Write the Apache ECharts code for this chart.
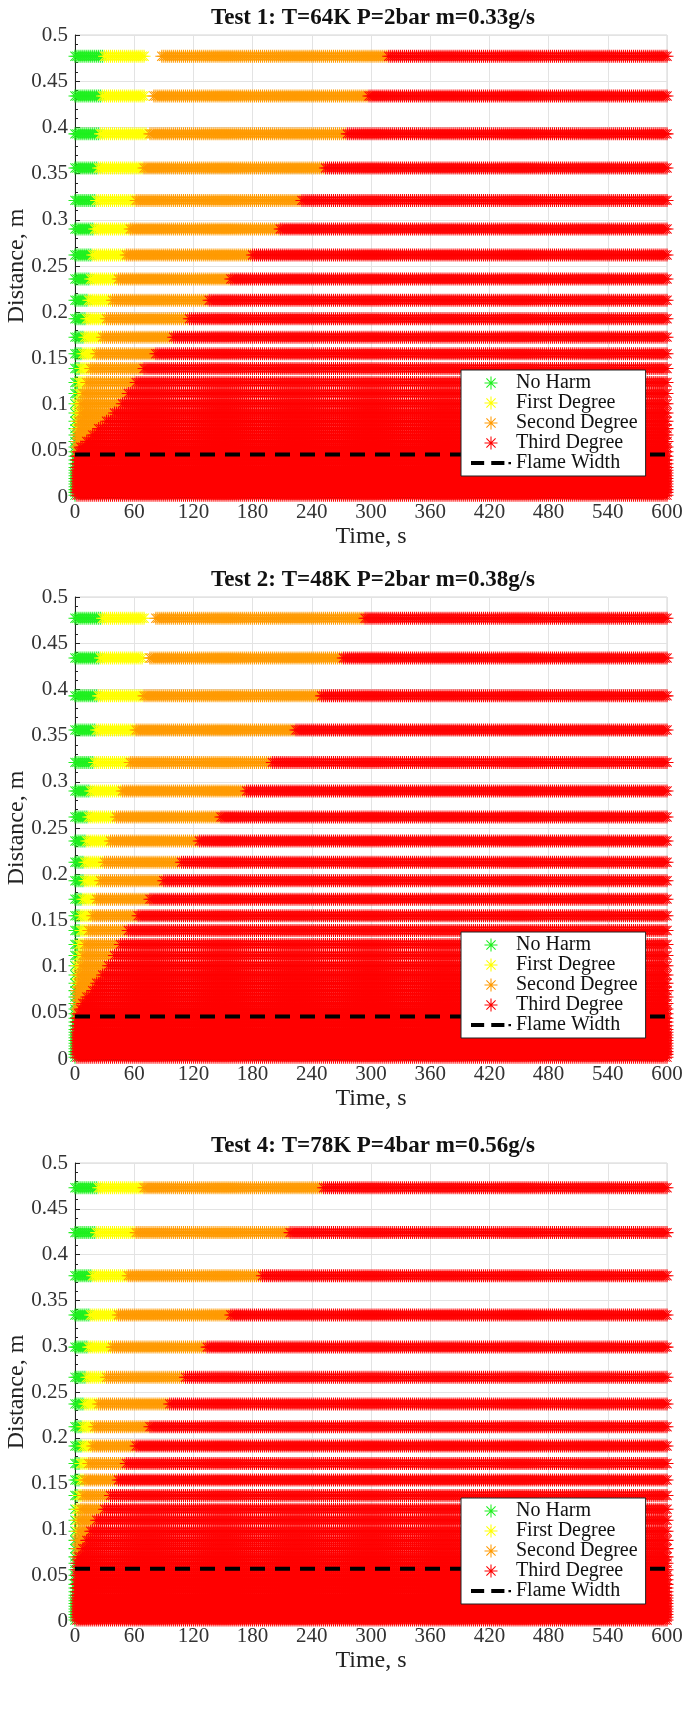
<!DOCTYPE html>
<html>
<head>
<meta charset="utf-8">
<script src="https://cdn.jsdelivr.net/npm/echarts@6/dist/echarts.min.js"></script>
<style>
html,body{margin:0;padding:0;background:#fff;}
#chart{width:683px;height:1728px;}
</style>
</head>
<body>
<div id="chart"></div>
<script>
// ---------------- DATA ----------------
const timeTicks = [0, 60, 120, 180, 240, 300, 360, 420, 480, 540, 600];
const distTicks = [0, 0.05, 0.1, 0.15, 0.2, 0.25, 0.3, 0.35, 0.4, 0.45, 0.5];
const sampleStep = 2; // s, time sampling of each row
const classNames = ['No Harm', 'First Degree', 'Second Degree', 'Third Degree'];
const lineName = 'Flame Width';
const titles = ['Test 1: T=64K P=2bar m=0.33g/s', 'Test 2: T=48K P=2bar m=0.38g/s', 'Test 4: T=78K P=4bar m=0.56g/s'];
const flameWidth = [0.046, 0.046, 0.057];

// Test 1: row distances (m) and harm transition times (s)
const rows1 = [0.477,0.434,0.393,0.356,0.321,0.290,0.262,0.236,0.213,0.193,0.173,0.155,0.139,0.124,0.112,0.101,0.091,0.082,0.074,0.067,0.060,0.054,0.049,0.044,0.040,0.036,0.032,0.029,0.026,0.023,0.020,0.017,0.014,0.011,0.008,0.005,0.002];
const greenEnd1 = [29,27.5,25,23.5,21,19,18,15.5,13,11,9,7.5,5,4,3,2,2,1,1,1,1,1,1,1,1,1,1,1,1,1,1,1,1,1,1,1,1];
const yellowEnd1 = [71,71,73,69,62,56,51,43,38,32,27,22,15,11,8,6,4.5,3.5,3,2,2,1,1,1,1,1,1,1,1,1,1,1,1,1,1,1,1];
const orangeStart1 = [87,80,76,69,62,56,51,43,38,32,27,22,15,11,8,6,4.5,3.5,3,2,2,1,1,1,1,1,1,1,1,1,1,1,1,1,1,1,1];
const redStart1 = [318,297,276,253,229,207,180,158,136,116,99,82,70,62,54,47,40,32,24,17,11,6,3,2,2,2,2,2,2,2,2,2,2,2,2,2,2];

// Test 2
const rows2 = [0.477,0.434,0.393,0.356,0.321,0.290,0.262,0.236,0.213,0.193,0.173,0.155,0.139,0.124,0.112,0.101,0.091,0.082,0.074,0.067,0.060,0.054,0.049,0.044,0.040,0.036,0.032,0.029,0.026,0.023,0.020,0.017,0.014,0.011,0.008,0.005,0.002];
const greenEnd2 = [27.5,25,23.5,21,19,15.5,14,12,10,8.5,7,6,5,4,3,2,2,1,1,1,1,1,1,1,1,1,1,1,1,1,1,1,1,1,1,1,1];
const yellowEnd2 = [71,70,69,62,55,47,42,36,30,25,21,17,14,10,7,5,4,3,2,2,1,1,1,1,1,1,1,1,1,1,1,1,1,1,1,1,1];
const orangeStart2 = [81,75,70,62,55,47,42,36,30,25,21,17,14,10,7,5,4,3,2,2,1,1,1,1,1,1,1,1,1,1,1,1,1,1,1,1,1];
const redStart2 = [293,271,250,224,200,173,148,126,107,90,76,63,54,46,40,34,28,22,17,12,8,5,3,2,2,2,2,2,2,2,2,2,2,2,2,2,2];

// Test 4
const rows4 = [0.473,0.424,0.377,0.334,0.299,0.266,0.237,0.212,0.191,0.172,0.154,0.137,0.122,0.110,0.098,0.088,0.079,0.070,0.063,0.056,0.050,0.045,0.040,0.036,0.032,0.028,0.025,0.022,0.019,0.016,0.013,0.010,0.007,0.004,0.001];
const greenEnd4 = [23.5,22,18,15.5,13,11,10,8,6.5,6,4.5,3,2,1,1,1,1,1,1,1,1,1,1,1,1,1,1,1,1,1,1,1,1,1,1];
const yellowEnd4 = [69,61,53,44,37,31,24,19,16.5,13,9,6.5,6,4,3,2,1,1,1,1,1,1,1,1,1,1,1,1,1,1,1,1,1,1,1];
const orangeStart4 = [69,61,53,44,37,31,24,19,16.5,13,9,6.5,6,4,3,2,1,1,1,1,1,1,1,1,1,1,1,1,1,1,1,1,1,1,1];
const redStart4 = [251,217,189,158,134,112,95,76,61,51,43,35.5,29,22,15.5,11,6.5,3,2,2,2,2,2,2,2,2,2,2,2,2,2,2,2,2,2];

// ---------------- BUILD ----------------
const tests = [
  {rows: rows1, g: greenEnd1, y: yellowEnd1, o: orangeStart1, r: redStart1},
  {rows: rows2, g: greenEnd2, y: yellowEnd2, o: orangeStart2, r: redStart2},
  {rows: rows4, g: greenEnd4, y: yellowEnd4, o: orangeStart4, r: redStart4}
];
const colors = ['#1ef01e', '#ffff00', '#ff9a00', '#ff0000'];
const ASTERISK = 'path://M0 9.2H20V10.8H0Z M9.2 0H10.8V20H9.2Z M3.5 2.36L17.64 16.5L16.5 17.64L2.36 3.5Z M16.5 2.36L17.64 3.5L3.5 17.64L2.36 16.5Z';
const DASH_ICON = 'path://M0 0H13V4H0Z M20 0H33V4H20Z M37 1H39.5V3.2H37Z';
const FONT = 'Liberation Serif';

function classify(test) {
  const out = [[], [], [], []];
  for (let i = 0; i < test.rows.length; i++) {
    for (let t = 0; t <= 600; t += sampleStep) {
      let c;
      if (t < test.g[i]) c = 0;
      else if (t < test.y[i]) c = 1;
      else if (t < test.o[i]) continue;
      else if (t < test.r[i]) c = 2;
      else c = 3;
      out[c].push([t, test.rows[i]]);
    }
  }
  return out;
}

const gridTops = [35, 597, 1163];
const gridHeights = [462, 462, 458];
const grids = [], xAxes = [], yAxes = [], series = [], legends = [], titleArr = [];

tests.forEach((test, k) => {
  grids.push({left: 75, right: 16, top: gridTops[k], height: gridHeights[k], show: true,
    borderColor: '#d4d4d4', borderWidth: 1, backgroundColor: 'transparent',
    containLabel: false, outerBoundsMode: 'none'});
  xAxes.push({
    gridIndex: k, type: 'value', min: 0, max: 600, interval: 60,
    name: 'Time, s', nameLocation: 'middle', nameGap: 28, nameMoveOverlap: false,
    nameTextStyle: {fontFamily: FONT, fontSize: 24, color: '#222'},
    axisLine: {show: true, lineStyle: {color: '#222'}},
    axisTick: {show: true, inside: true, length: 5, lineStyle: {color: '#222'}},
    axisLabel: {fontFamily: FONT, fontSize: 21, color: '#333', margin: 5},
    splitLine: {show: true, lineStyle: {color: '#e3e3e3'}}
  });
  yAxes.push({
    gridIndex: k, type: 'value', min: 0, max: 0.5, interval: 0.05,
    name: 'Distance, m', nameLocation: 'middle', nameGap: 46, nameMoveOverlap: false,
    nameTextStyle: {fontFamily: FONT, fontSize: 24, color: '#222'},
    axisLine: {show: true, lineStyle: {color: '#222'}},
    axisTick: {show: true, inside: true, length: 5, lineStyle: {color: '#222'}},
    minorTick: {show: true, splitNumber: 5, length: 3, lineStyle: {color: '#222'}},
    axisLabel: {fontFamily: FONT, fontSize: 21, color: '#333', margin: 7,
      formatter: v => String(+v.toFixed(2))},
    splitLine: {show: true, lineStyle: {color: '#e3e3e3'}}
  });
  const cls = classify(test);
  for (let c = 0; c < 4; c++) {
    series.push({
      name: classNames[c], type: 'scatter', xAxisIndex: k, yAxisIndex: k,
      data: cls[c], symbol: ASTERISK, symbolSize: 13,
      itemStyle: {color: colors[c], opacity: 1},
      large: false, progressive: 0, animation: false, silent: true, clip: false, z: 2
    });
  }
  series.push({
    name: lineName, type: 'line', xAxisIndex: k, yAxisIndex: k,
    data: [[0, flameWidth[k]], [600, flameWidth[k]]], symbol: 'none', z: 3,
    lineStyle: {color: '#000', width: 4, type: [15, 10]}, itemStyle: {color: '#000'},
    animation: false, silent: true
  });
  legends.push({
    orient: 'vertical', left: 461, top: gridTops[k] + 335, z: 20,
    data: classNames.map(n => ({name: n})).concat([{name: lineName, icon: DASH_ICON}]),
    itemWidth: 40, itemHeight: 13, itemGap: 0,
    backgroundColor: '#fff', borderColor: '#222', borderWidth: 1,
    padding: [3, 8, 3, 10], selectedMode: false,
    textStyle: {fontFamily: FONT, fontSize: 20, color: '#111'}
  });
  titleArr.push({
    text: titles[k], left: 368, top: gridTops[k] - 33, textAlign: 'center',
    textStyle: {fontFamily: FONT, fontSize: 23, fontWeight: 'bold', color: '#111'}
  });
});

const chart = echarts.init(document.getElementById('chart'), null, {renderer: 'canvas'});
chart.setOption({
  animation: false,
  backgroundColor: '#fff',
  title: titleArr,
  legend: legends,
  grid: grids,
  xAxis: xAxes,
  yAxis: yAxes,
  series: series
});
</script>
</body>
</html>
